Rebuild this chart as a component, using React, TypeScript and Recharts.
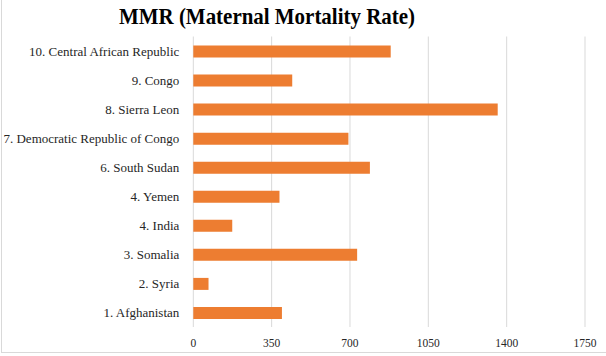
import { BarChart, Bar, XAxis, YAxis, CartesianGrid } from "recharts";

const countries = [
  "1. Afghanistan",
  "2. Syria",
  "3. Somalia",
  "4. India",
  "4. Yemen",
  "6. South Sudan",
  "7. Democratic Republic of Congo",
  "8. Sierra Leon",
  "9. Congo",
  "10. Central African Republic",
];
const mmr = [396, 68, 732, 174, 385, 789, 693, 1360, 442, 882];
const xTicks = [0, 350, 700, 1050, 1400, 1750];

const data = countries.map((name, i) => ({ name, mmr: mmr[i] }));

const serif = "'Liberation Serif', 'DejaVu Serif', serif";

const CountryTick = (props: any) => {
  const { x, y, payload } = props;
  return (
    <text
      x={x + 2}
      y={y}
      dy={4.5}
      textAnchor="end"
      fontFamily={serif}
      fontSize={13}
      fill="#262626"
    >
      {payload.value}
    </text>
  );
};

const ValueTick = (props: any) => {
  const { x, y, payload } = props;
  return (
    <text
      x={x}
      y={y}
      dy={10}
      textAnchor="middle"
      fontFamily={serif}
      fontSize={11.5}
      fill="#262626"
    >
      {payload.value}
    </text>
  );
};

export default function App() {
  return (
    <div
      style={{
        position: "fixed",
        left: 0,
        top: 0,
        width: 606,
        height: 356,
        background: "#fff",
        overflow: "hidden",
      }}
    >
      <div
        style={{
          position: "absolute",
          left: 1,
          top: 0,
          width: 1,
          height: 353,
          background: "#d9d9d9",
        }}
      />
      <div
        style={{
          position: "absolute",
          left: 1,
          top: 352,
          width: 605,
          height: 1,
          background: "#d9d9d9",
        }}
      />
      <svg
        width={606}
        height={36}
        style={{ position: "absolute", left: 0, top: 0 }}
      >
        <text
          x={267}
          y={24}
          textAnchor="middle"
          textLength={296}
          lengthAdjust="spacingAndGlyphs"
          fontFamily={serif}
          fontWeight="bold"
          fontSize={24}
          fill="#000"
        >
          MMR (Maternal Mortality Rate)
        </text>
      </svg>
      <div style={{ position: "absolute", left: 0, top: 0 }}>
        <BarChart
          width={606}
          height={356}
          data={data}
          layout="vertical"
          margin={{ top: 36.5, right: 21, bottom: 0, left: 0 }}
          barSize={12}
        >
          <CartesianGrid horizontal={false} stroke="#d9d9d9" />
          <XAxis
            type="number"
            domain={[0, 1750]}
            ticks={xTicks}
            axisLine={false}
            tickLine={false}
            interval={0}
            tick={ValueTick}
            tickMargin={4}
            height={29}
          />
          <YAxis
            type="category"
            dataKey="name"
            reversed
            width={193.3}
            axisLine={false}
            tickLine={false}
            interval={0}
            tickMargin={10}
            tick={CountryTick}
          />
          <Bar dataKey="mmr" fill="#ED7D31" isAnimationActive={false} />
        </BarChart>
      </div>
    </div>
  );
}
